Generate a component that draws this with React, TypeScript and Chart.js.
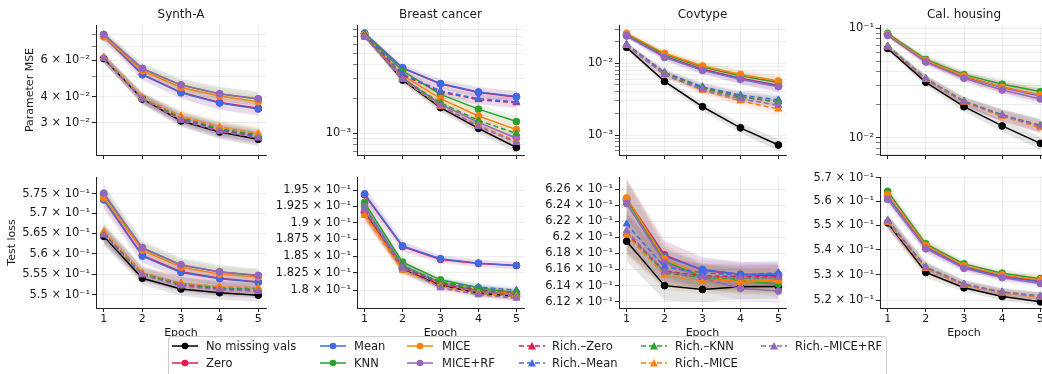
import React, { useEffect, useRef } from 'react';
import { Chart, registerables } from 'chart.js';
Chart.register(...registerables);

const FONT = '"DejaVu Sans", sans-serif';
const TEXT = '#1a1a1a';

const epochs = [1, 2, 3, 4, 5];
const seriesNames = ['No missing vals', 'Zero', 'Mean', 'KNN', 'MICE', 'MICE+RF', 'Rich.–Zero', 'Rich.–Mean', 'Rich.–KNN', 'Rich.–MICE', 'Rich.–MICE+RF'];
const seriesColors = ['#000000', '#e6194b', '#4169e1', '#2ca02c', '#ff7f0e', '#9467bd', '#e6194b', '#4169e1', '#2ca02c', '#ff7f0e', '#9467bd'];
const seriesDashed = [false, false, false, false, false, false, true, true, true, true, true];

const datasetTitles = ['Synth-A', 'Breast cancer', 'Covtype', 'Cal. housing'];

// ---------- Parameter MSE ----------
const synthA_mse = [
  [0.0610, 0.0390, 0.0306, 0.0271, 0.0250],
  [0.0780, 0.0512, 0.0420, 0.0375, 0.0352],
  [0.0777, 0.0510, 0.0418, 0.0373, 0.0349],
  [0.0795, 0.0545, 0.0455, 0.0412, 0.0390],
  [0.0777, 0.0533, 0.0443, 0.0403, 0.0378],
  [0.0797, 0.0547, 0.0456, 0.0413, 0.0391],
  [0.0612, 0.0392, 0.0313, 0.0276, 0.0256],
  [0.0614, 0.0394, 0.0316, 0.0279, 0.0259],
  [0.0615, 0.0393, 0.0318, 0.0281, 0.0262],
  [0.0620, 0.0396, 0.0323, 0.0286, 0.0267],
  [0.0610, 0.0389, 0.0308, 0.0273, 0.0253],
];
const synthA_mseBand = [0.05, 0.06, 0.07, 0.08, 0.08];
const synthA_mseRange = [0.021, 0.0884];
const synthA_mseTicks = [0.03, 0.04, 0.05, 0.06, 0.07, 0.08];
const synthA_mseTickLabels = ['3 × 10⁻²', '4 × 10⁻²', '', '6 × 10⁻²', '', ''];

const breast_mse = [
  [0.0072, 0.00292, 0.00168, 0.00111, 0.000756],
  [0.0074, 0.00370, 0.00270, 0.00228, 0.00208],
  [0.0075, 0.00374, 0.00272, 0.00230, 0.00210],
  [0.0074, 0.00350, 0.00219, 0.00163, 0.00127],
  [0.0073, 0.00320, 0.00201, 0.00142, 0.00108],
  [0.0070, 0.00305, 0.00180, 0.00125, 0.00091],
  [0.0072, 0.00325, 0.00230, 0.00197, 0.00185],
  [0.0073, 0.00330, 0.00235, 0.00201, 0.00188],
  [0.0071, 0.00300, 0.00185, 0.00130, 0.00100],
  [0.0070, 0.00295, 0.00172, 0.00118, 0.00086],
  [0.0069, 0.00295, 0.00175, 0.00115, 0.000835],
];
const breast_mseBand = [0.04, 0.07, 0.09, 0.11, 0.12];
const breast_mseRange = [0.00065, 0.0088];
const breast_mseTicks = [0.0007, 0.0008, 0.0009, 0.001, 0.002, 0.003, 0.004, 0.005, 0.006, 0.007, 0.008];
const breast_mseTickLabels = ['', '', '', '10⁻³', '', '', '', '', '', '', ''];

const covtype_mse = [
  [0.0167, 0.0056, 0.00248, 0.00126, 0.000725],
  [0.0245, 0.0125, 0.0083, 0.0062, 0.0049],
  [0.0242, 0.0122, 0.0081, 0.0061, 0.0048],
  [0.0255, 0.0133, 0.0089, 0.0067, 0.0054],
  [0.0262, 0.0138, 0.0092, 0.0070, 0.00567],
  [0.0243, 0.0121, 0.00798, 0.00598, 0.00472],
  [0.0182, 0.0073, 0.0046, 0.0034, 0.0029],
  [0.0185, 0.0075, 0.0047, 0.0036, 0.0031],
  [0.0180, 0.0072, 0.0045, 0.0034, 0.0029],
  [0.0178, 0.0070, 0.0042, 0.0030, 0.0023],
  [0.0180, 0.0069, 0.0043, 0.0032, 0.0026],
];
const covtype_mseBand = [0.08, 0.12, 0.15, 0.18, 0.2];
const covtype_mseRange = [0.000526, 0.0343];
const covtype_mseTicks = [0.0006, 0.0007, 0.0008, 0.0009, 0.001, 0.002, 0.003, 0.004, 0.005, 0.006, 0.007, 0.008, 0.009, 0.01, 0.02, 0.03];
const covtype_mseTickLabels = ['', '', '', '', '10⁻³', '', '', '', '', '', '', '', '', '10⁻²', '', ''];

const calh_mse = [
  [0.0656, 0.0321, 0.0192, 0.0128, 0.00887],
  [0.0870, 0.0500, 0.0360, 0.0290, 0.0245],
  [0.0875, 0.0505, 0.0362, 0.0288, 0.0240],
  [0.0900, 0.0520, 0.0377, 0.0308, 0.0264],
  [0.0880, 0.0508, 0.0367, 0.0290, 0.0246],
  [0.0863, 0.0492, 0.0349, 0.0273, 0.0226],
  [0.0680, 0.0344, 0.0213, 0.0159, 0.0128],
  [0.0680, 0.0345, 0.0214, 0.0160, 0.0127],
  [0.0690, 0.0348, 0.0216, 0.0162, 0.0130],
  [0.0675, 0.0340, 0.0211, 0.0157, 0.0123],
  [0.0680, 0.0345, 0.0213, 0.0160, 0.0128],
];
const calh_mseBand = [0.05, 0.08, 0.1, 0.13, 0.15];
const calh_mseRange = [0.00694, 0.1073];
const calh_mseTicks = [0.007, 0.008, 0.009, 0.01, 0.02, 0.03, 0.04, 0.05, 0.06, 0.07, 0.08, 0.09, 0.1];
const calh_mseTickLabels = ['', '', '', '10⁻²', '', '', '', '', '', '', '', '', '10⁻¹'];

// ---------- Test loss ----------
const synthA_loss = [
  [0.5643, 0.5540, 0.5514, 0.5505, 0.5499],
  [0.5736, 0.5596, 0.5556, 0.5540, 0.5531],
  [0.5734, 0.5594, 0.5554, 0.5539, 0.5530],
  [0.5748, 0.5614, 0.5572, 0.5555, 0.5546],
  [0.5739, 0.5609, 0.5567, 0.5550, 0.5543],
  [0.5751, 0.5615, 0.5573, 0.5556, 0.5547],
  [0.5648, 0.5550, 0.5524, 0.5514, 0.5509],
  [0.5650, 0.5552, 0.5527, 0.5516, 0.5512],
  [0.5652, 0.5551, 0.5526, 0.5517, 0.5514],
  [0.5655, 0.5553, 0.5528, 0.5520, 0.5517],
  [0.5646, 0.5548, 0.5521, 0.5512, 0.5508],
];
const synthA_lossBand = [0.004, 0.003, 0.003, 0.003, 0.003];
const synthA_lossRange = [0.5468, 0.5792];
const synthA_lossTicks = [0.55, 0.555, 0.56, 0.565, 0.57, 0.575];
const synthA_lossTickLabels = ['5.5 × 10⁻¹', '5.55 × 10⁻¹', '5.6 × 10⁻¹', '5.65 × 10⁻¹', '5.7 × 10⁻¹', '5.75 × 10⁻¹'];

const breast_loss = [
  [0.1916, 0.1831, 0.1807, 0.1796, 0.1791],
  [0.1943, 0.1864, 0.1845, 0.1839, 0.1836],
  [0.19445, 0.1865, 0.1846, 0.18395, 0.1836],
  [0.1931, 0.1841, 0.1815, 0.18035, 0.1796],
  [0.19135, 0.1832, 0.1811, 0.1800, 0.1795],
  [0.1925, 0.1836, 0.1810, 0.1799, 0.1793],
  [0.1918, 0.1833, 0.1809, 0.1800, 0.1797],
  [0.1920, 0.1834, 0.1811, 0.18045, 0.1800],
  [0.1922, 0.1835, 0.1812, 0.1801, 0.1797],
  [0.1911, 0.1829, 0.1806, 0.1796, 0.1791],
  [0.1921, 0.1832, 0.18035, 0.17935, 0.17885],
];
const breast_lossBand = [0.006, 0.004, 0.003, 0.003, 0.003];
const breast_lossRange = [0.17745, 0.1971];
const breast_lossTicks = [0.18, 0.1825, 0.185, 0.1875, 0.19, 0.1925, 0.195];
const breast_lossTickLabels = ['1.8 × 10⁻¹', '1.825 × 10⁻¹', '1.85 × 10⁻¹', '1.875 × 10⁻¹', '1.9 × 10⁻¹', '1.925 × 10⁻¹', '1.95 × 10⁻¹'];

const covtype_loss = [
  [0.6195, 0.6140, 0.61353, 0.61386, 0.6139],
  [0.6248, 0.6178, 0.6159, 0.6154, 0.6152],
  [0.6246, 0.6176, 0.6160, 0.6154, 0.6154],
  [0.6247, 0.6170, 0.6151, 0.6146, 0.6142],
  [0.6249, 0.6173, 0.6153, 0.6144, 0.6147],
  [0.6242, 0.6168, 0.6149, 0.61366, 0.61333],
  [0.6205, 0.6158, 0.6152, 0.6151, 0.6152],
  [0.62165, 0.6163, 0.6156, 0.6153, 0.6156],
  [0.6204, 0.6156, 0.6150, 0.6149, 0.6150],
  [0.6203, 0.6153, 0.6145, 0.6147, 0.6146],
  [0.6208, 0.6157, 0.6151, 0.6150, 0.6150],
];
const covtype_lossBand = [0.004, 0.003, 0.0025, 0.0025, 0.0025];
const covtype_lossRange = [0.61125, 0.62753];
const covtype_lossTicks = [0.612, 0.614, 0.616, 0.618, 0.62, 0.622, 0.624, 0.626];
const covtype_lossTickLabels = ['6.12 × 10⁻¹', '6.14 × 10⁻¹', '6.16 × 10⁻¹', '6.18 × 10⁻¹', '6.2 × 10⁻¹', '6.22 × 10⁻¹', '6.24 × 10⁻¹', '6.26 × 10⁻¹'];

const calh_loss = [
  [0.5510, 0.5309, 0.5248, 0.5214, 0.5193],
  [0.5625, 0.5412, 0.5332, 0.5295, 0.5275],
  [0.5620, 0.5410, 0.5330, 0.5292, 0.5272],
  [0.5642, 0.5424, 0.5343, 0.5306, 0.5284],
  [0.5628, 0.5417, 0.5336, 0.5299, 0.5279],
  [0.5608, 0.5404, 0.5325, 0.5288, 0.5265],
  [0.5515, 0.5326, 0.5260, 0.5229, 0.5213],
  [0.5517, 0.5328, 0.5261, 0.5230, 0.5214],
  [0.5520, 0.5331, 0.5263, 0.5232, 0.5216],
  [0.5512, 0.5324, 0.5258, 0.5227, 0.5211],
  [0.5519, 0.5329, 0.5262, 0.5231, 0.5215],
];
const calh_lossBand = [0.005, 0.004, 0.003, 0.003, 0.003];
const calh_lossRange = [0.5169, 0.5703];
const calh_lossTicks = [0.52, 0.53, 0.54, 0.55, 0.56, 0.57];
const calh_lossTickLabels = ['5.2 × 10⁻¹', '5.3 × 10⁻¹', '5.4 × 10⁻¹', '5.5 × 10⁻¹', '5.6 × 10⁻¹', '5.7 × 10⁻¹'];

// ---------- layout ----------
const colLeft = [96, 357, 619, 880];
const colWidth = [170, 167, 167, 168];
const Y_AXIS_W = 95;
const RIGHT_PAD = 8;
const rowGeom = [
  { canvasTop: 0, padTop: 25, plotH: 130, axisH: 12 },
  { canvasTop: 167, padTop: 10, plotH: 131, axisH: 40 },
];

function rgba(hex: string, a: number) {
  const n = parseInt(hex.slice(1), 16);
  return `rgba(${(n >> 16) & 255},${(n >> 8) & 255},${n & 255},${a})`;
}

const panelTextPlugin = {
  id: 'panelText',
  afterDraw(chart: any, _args: any, opts: any) {
    const { ctx, chartArea } = chart;
    const cx = (chartArea.left + chartArea.right) / 2;
    ctx.save();
    ctx.fillStyle = TEXT;
    ctx.textAlign = 'center';
    ctx.textBaseline = 'middle';
    if (opts.title) {
      ctx.font = `12px ${FONT}`;
      ctx.fillText(opts.title, cx, opts.titleY);
    }
    if (opts.xlabel) {
      ctx.font = `11px ${FONT}`;
      ctx.fillText(opts.xlabel, cx, opts.xlabelY);
    }
    if (opts.ylabel) {
      ctx.font = `11px ${FONT}`;
      ctx.translate(opts.ylabelX, (chartArea.top + chartArea.bottom) / 2);
      ctx.rotate(-Math.PI / 2);
      ctx.fillText(opts.ylabel, 0, 0);
    }
    ctx.restore();
  },
};

type PanelCfg = {
  row: number;
  col: number;
  values: number[][];
  band: number[];
  range: number[];
  ticks: number[];
  tickLabels: string[];
};

const panels: PanelCfg[] = [
  { row: 0, col: 0, values: synthA_mse, band: synthA_mseBand, range: synthA_mseRange, ticks: synthA_mseTicks, tickLabels: synthA_mseTickLabels },
  { row: 0, col: 1, values: breast_mse, band: breast_mseBand, range: breast_mseRange, ticks: breast_mseTicks, tickLabels: breast_mseTickLabels },
  { row: 0, col: 2, values: covtype_mse, band: covtype_mseBand, range: covtype_mseRange, ticks: covtype_mseTicks, tickLabels: covtype_mseTickLabels },
  { row: 0, col: 3, values: calh_mse, band: calh_mseBand, range: calh_mseRange, ticks: calh_mseTicks, tickLabels: calh_mseTickLabels },
  { row: 1, col: 0, values: synthA_loss, band: synthA_lossBand, range: synthA_lossRange, ticks: synthA_lossTicks, tickLabels: synthA_lossTickLabels },
  { row: 1, col: 1, values: breast_loss, band: breast_lossBand, range: breast_lossRange, ticks: breast_lossTicks, tickLabels: breast_lossTickLabels },
  { row: 1, col: 2, values: covtype_loss, band: covtype_lossBand, range: covtype_lossRange, ticks: covtype_lossTicks, tickLabels: covtype_lossTickLabels },
  { row: 1, col: 3, values: calh_loss, band: calh_lossBand, range: calh_lossRange, ticks: calh_lossTicks, tickLabels: calh_lossTickLabels },
];

function labelFor(cfg: PanelCfg, v: number) {
  const i = cfg.ticks.findIndex((t) => Math.abs(t - v) / t < 1e-6);
  return i >= 0 ? cfg.tickLabels[i] : '';
}

function Panel({ cfg }: { cfg: PanelCfg }) {
  const ref = useRef<HTMLCanvasElement>(null);
  const g = rowGeom[cfg.row];
  const left = colLeft[cfg.col] - Y_AXIS_W;
  const w = Y_AXIS_W + colWidth[cfg.col] + RIGHT_PAD;
  const h = g.padTop + g.plotH + g.axisH;

  useEffect(() => {
    const datasets: any[] = [];
    cfg.values.forEach((vals, i) => {
      const c = seriesColors[i];
      datasets.push({
        data: epochs.map((e, k) => ({ x: e, y: vals[k] * (1 + cfg.band[k]) })),
        borderWidth: 0, pointRadius: 0, fill: '+1', backgroundColor: rgba(c, 0.1), borderColor: 'transparent', order: 1000,
      });
      datasets.push({
        data: epochs.map((e, k) => ({ x: e, y: vals[k] / (1 + cfg.band[k]) })),
        borderWidth: 0, pointRadius: 0, fill: false, borderColor: 'transparent', order: 1000,
      });
    });
    cfg.values.forEach((vals, i) => {
      const c = seriesColors[i];
      const dashed = seriesDashed[i];
      datasets.push({
        label: seriesNames[i],
        data: epochs.map((e, k) => ({ x: e, y: vals[k] })),
        borderColor: c, backgroundColor: c, pointBackgroundColor: c, pointBorderColor: c,
        borderWidth: 1.5, borderDash: dashed ? [5, 3] : [],
        pointStyle: dashed ? 'triangle' : 'circle', pointRadius: dashed ? 4 : 3.4, pointBorderWidth: 1,
        fill: false, tension: 0, order: 100 - i,
      });
    });

    const gridColor = 'rgba(0,0,0,0.09)';
    const chart = new Chart(ref.current!, {
      type: 'line',
      data: { datasets },
      plugins: [panelTextPlugin as any],
      options: {
        animation: false,
        responsive: false,
        devicePixelRatio: 1,
        layout: { padding: { top: g.padTop, right: RIGHT_PAD, left: 0, bottom: 0 } },
        plugins: {
          legend: { display: false },
          tooltip: { enabled: false },
          panelText: {
            title: cfg.row === 0 ? datasetTitles[cfg.col] : '',
            titleY: 15,
            xlabel: cfg.row === 1 ? 'Epoch' : '',
            xlabelY: 333 - g.canvasTop,
            ylabel: cfg.col === 0 ? (cfg.row === 0 ? 'Parameter MSE' : 'Test loss') : '',
            ylabelX: (cfg.row === 0 ? 30.5 : 12) - left,
          },
        } as any,
        scales: {
          x: {
            type: 'linear', min: 0.8, max: 5.2, bounds: 'data',
            afterBuildTicks: (s: any) => { s.ticks = epochs.map((v) => ({ value: v })); },
            afterFit: (s: any) => { s.height = g.axisH; },
            grid: { color: gridColor, lineWidth: 0.8, tickLength: 4, tickColor: '#222', tickWidth: 1 },
            border: { display: true, color: '#222', width: 1 },
            ticks: {
              autoSkip: false, maxRotation: 0, padding: 1, color: TEXT,
              font: { family: FONT, size: 11 },
              callback: (v: any) => (cfg.row === 1 ? String(v) : ''),
            },
          },
          y: {
            type: 'logarithmic', min: cfg.range[0], max: cfg.range[1], bounds: 'data',
            afterBuildTicks: (s: any) => { s.ticks = cfg.ticks.map((v) => ({ value: v })); },
            afterFit: (s: any) => { s.width = Y_AXIS_W; },
            grid: {
              color: gridColor, lineWidth: 0.8, tickLength: 4, tickColor: '#222',
              tickWidth: (ctx: any) => (ctx.tick && labelFor(cfg, ctx.tick.value) ? 1 : 0.6),
            },
            border: { display: true, color: '#222', width: 1 },
            ticks: {
              autoSkip: false, padding: 2, color: TEXT,
              font: { family: FONT, size: 11.5 },
              callback: (v: any) => labelFor(cfg, Number(v)),
            },
          },
        },
      } as any,
    });
    return () => chart.destroy();
  }, []);

  return (
    <canvas
      ref={ref}
      width={w}
      height={h}
      style={{ position: 'absolute', left, top: g.canvasTop, width: w, height: h }}
    />
  );
}

const legendColX = [
  { hx: 171, tx: 206 },
  { hx: 319, tx: 354 },
  { hx: 406, tx: 442 },
  { hx: 518, tx: 552 },
  { hx: 640, tx: 675 },
  { hx: 760, tx: 795 },
];
const legendRowY = [346, 363];

function Legend() {
  const items: any[] = [];
  seriesNames.forEach((name, i) => {
    const col = Math.floor(i / 2);
    const row = i % 2;
    const { hx, tx } = legendColX[col];
    const y = legendRowY[row];
    const c = seriesColors[i];
    const dashed = seriesDashed[i];
    items.push(
      <svg key={'h' + i} width={28} height={12} style={{ position: 'absolute', left: hx, top: y - 6 }}>
        <line x1={1} y1={6} x2={27} y2={6} stroke={c} strokeWidth={1.5} strokeDasharray={dashed ? '5 3' : undefined} />
        {dashed ? <polygon points="14,2 18,9.5 10,9.5" fill={c} /> : <circle cx={14} cy={6} r={3.3} fill={c} />}
      </svg>,
      <span key={'t' + i} style={{ position: 'absolute', left: tx, top: y - 8, lineHeight: '16px', fontSize: 11.5, fontFamily: FONT, color: TEXT, whiteSpace: 'nowrap' }}>
        {name}
      </span>,
    );
  });
  return (
    <>
      <div style={{ position: 'absolute', left: 168, top: 336, width: 719, height: 42, border: '1px solid #cccccc', borderRadius: 3, background: 'rgba(255,255,255,0.85)', boxSizing: 'border-box' }} />
      {items}
    </>
  );
}

export default function App() {
  return (
    <div style={{ position: 'absolute', left: 0, top: 0, width: 1042, height: 374, overflow: 'hidden', background: '#ffffff' }}>
      {panels.map((p, i) => (
        <Panel key={i} cfg={p} />
      ))}
      <Legend />
    </div>
  );
}
